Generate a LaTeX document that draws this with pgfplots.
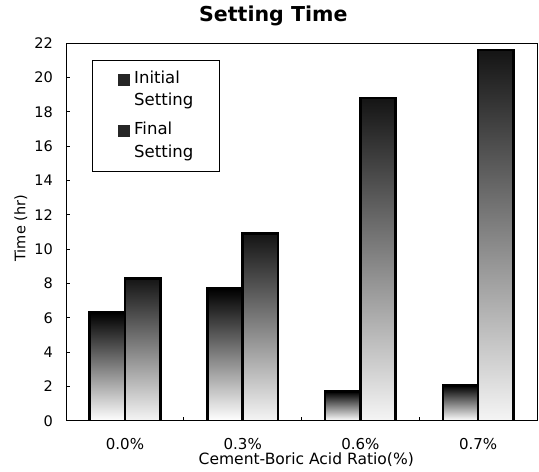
\documentclass[border=0pt]{standalone}
\usepackage{pgfplots}
\pgfplotsset{compat=1.18}
\usepackage{fontspec}
\setmainfont{DejaVu Sans}
\usetikzlibrary{calc}
\pgfplotsset{
  initbar/.style={ybar, bar shift=-0.15, line width=2.5bp, draw=black,
    top color=black, middle color=black!70, bottom color=white, forget plot},
  finbar/.style={ybar, bar shift=0.15, line width=2.5bp, draw=black,
    top color=black!92, middle color=black!50, bottom color=black!4, forget plot},
}
\begin{document}
\begin{tikzpicture}
\begin{axis}[
  name=ax,
  scale only axis,
  width=470bp, height=377bp,
  xmin=-0.5, xmax=3.5,
  ymin=0, ymax=22,
  ytick={0,2,...,22},
  /pgf/number format/assume math mode=true,
  xtick={0,1,2,3},
  xticklabels={0.0\%,0.3\%,0.6\%,0.7\%},
  minor xtick={0.5,1.5,2.5},
  major x tick style={draw=none},
  minor tick length=4bp,
  major tick length=4bp,
  tick align=inside,
  xtick pos=bottom, ytick pos=left,
  axis line style={line width=0.8bp},
  tick style={line width=0.8bp, black},
  yticklabel style={font=\fontsize{14.5bp}{16bp}\selectfont, anchor=east, inner sep=0pt, xshift=-13bp},
  xticklabel style={font=\fontsize{15bp}{16bp}\selectfont, anchor=base, inner sep=0pt, yshift=-29bp},
  title={Setting Time},
  title style={font=\fontsize{20.5bp}{24bp}\selectfont\bfseries, at={(axis description cs:0.44,1)}, anchor=base, inner sep=0pt, yshift=16bp},
  xlabel={Cement-Boric Acid Ratio(\%)},
  xlabel style={font=\fontsize{15.5bp}{18bp}\selectfont, at={(axis description cs:0.51,-0.1165)}, anchor=base, inner sep=0pt},
  ylabel={Time (hr)},
  ylabel style={font=\fontsize{14.5bp}{17bp}\selectfont, at={(axis description cs:-0.096,0.51)}, anchor=center, inner sep=0pt},
  legend style={at={(axis description cs:0.055,0.955)}, anchor=north west,
    draw=black, line width=0.7bp, inner xsep=26bp, inner ysep=8bp,
    font=\fontsize{16.5bp}{22bp}\selectfont,
    nodes={inner sep=0pt, text depth=},
    cells={anchor=west}, row sep=7bp, column sep=4bp},
  legend image code/.code={\fill[black!85] (0bp,5.5bp) rectangle (11bp,16.5bp);},
  bar width=0.3,
]
\addplot[initbar] coordinates {(0,6.3)};
\addplot[initbar] coordinates {(1,7.7)};
\addplot[initbar] coordinates {(2,1.7)};
\addplot[initbar] coordinates {(3,2.05)};
\addplot[finbar] coordinates {(0,8.3)};
\addplot[finbar] coordinates {(1,10.9)};
\addplot[finbar] coordinates {(2,18.8)};
\addplot[finbar] coordinates {(3,21.6)};
\addlegendimage{black}
\addlegendentry{\begin{tabular}[t]{@{}l@{}}Initial\\Setting\end{tabular}}
\addlegendimage{black}
\addlegendentry{\begin{tabular}[t]{@{}l@{}}Final\\Setting\end{tabular}}
\end{axis}
\path ($(ax.south west)+(-66bp,-51bp)$) rectangle ($(ax.north east)+(2bp,43bp)$);
\end{tikzpicture}
\end{document}
